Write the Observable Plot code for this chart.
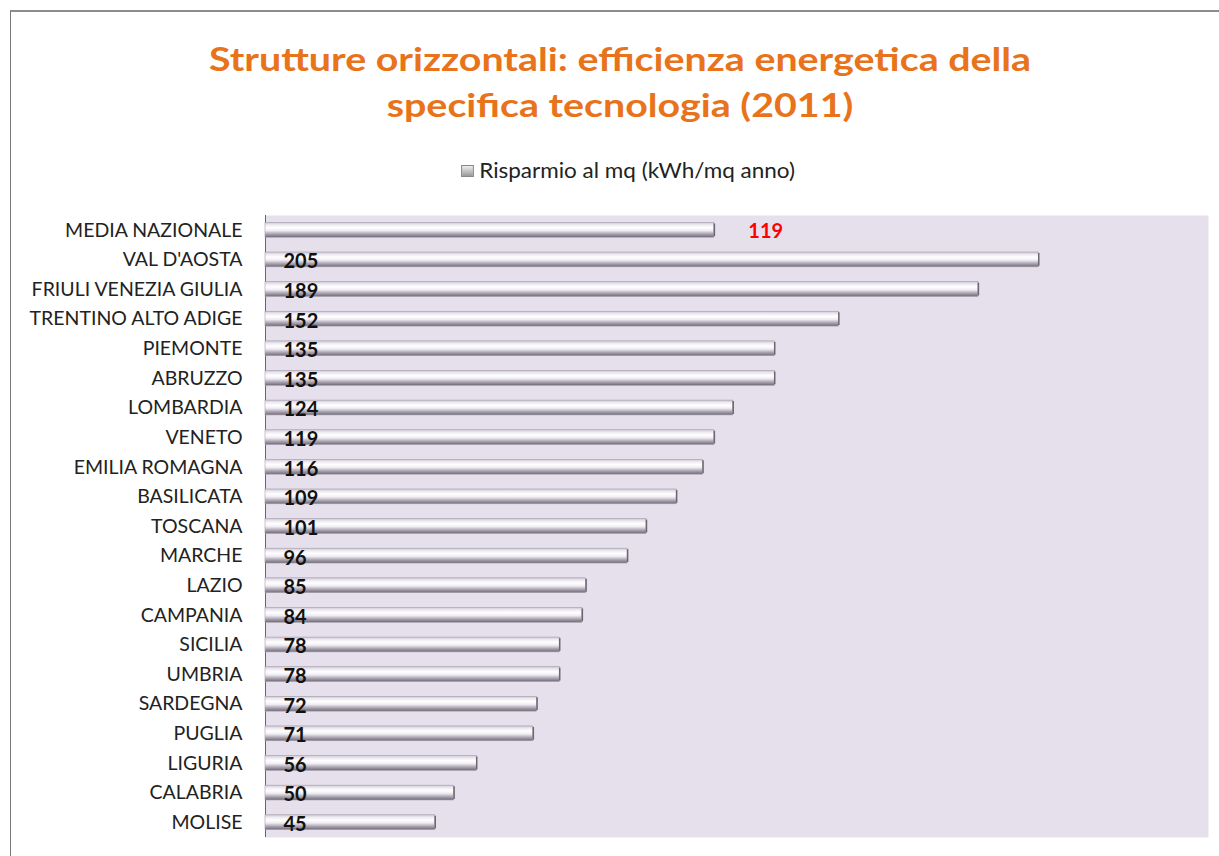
<!DOCTYPE html>
<html>
<head>
<meta charset="utf-8">
<script src="https://cdn.jsdelivr.net/npm/d3@7"></script>
<script src="https://cdn.jsdelivr.net/npm/@observablehq/plot@0.6"></script>
<style>
  html, body { margin: 0; padding: 0; background: #fff; }
  body { width: 1219px; height: 856px; position: relative; overflow: hidden; font-family: Lato, "Open Sans", sans-serif; }
  #frame { position: absolute; left: 10px; top: 10px; width: 1230px; height: 860px; border-top: 2px solid #8c8c8c; border-left: 1px solid #7a7a7a; }
  #title { position: absolute; left: 0; top: 36px; width: 1240px; text-align: center; color: #e8731a; font-weight: bold; font-size: 32px; line-height: 46px; transform: scaleX(1.23); transform-origin: 620px 0; }
  #legend { position: absolute; left: 0; top: 157px; width: 1256px; text-align: center; font-size: 21px; color: #222; transform: scaleX(1.07); transform-origin: 628px 0; }
  #legend .sw { display: inline-block; width: 10px; height: 10px; background: linear-gradient(#eee, #999); border: 1px solid #888; margin-right: 5px; vertical-align: 1px; }
  #chart { position: absolute; left: 0; top: 205px; }
</style>
</head>
<body>
<div id="frame"></div>
<div id="title">Strutture orizzontali: efficienza energetica della<br>specifica tecnologia (2011)</div>
<div id="legend"><span class="sw"></span>Risparmio al mq (kWh/mq anno)</div>
<div id="chart"></div>
<script>
const regions = ["MEDIA NAZIONALE","VAL D'AOSTA","FRIULI VENEZIA GIULIA","TRENTINO ALTO ADIGE","PIEMONTE","ABRUZZO","LOMBARDIA","VENETO","EMILIA ROMAGNA","BASILICATA","TOSCANA","MARCHE","LAZIO","CAMPANIA","SICILIA","UMBRIA","SARDEGNA","PUGLIA","LIGURIA","CALABRIA","MOLISE"];
const values = [119,205,189,152,135,135,124,119,116,109,101,96,85,84,78,78,72,71,56,50,45];

const data = regions.map((r, i) => ({region: r, value: values[i]}));
const avg = data.slice(0, 1);
const rest = data.slice(1);

const defs = () => {
  const d = d3.create("svg:defs");
  const g = d.append("linearGradient").attr("id", "barGrad").attr("x1", 0).attr("y1", 0).attr("x2", 0).attr("y2", 1);
  [[0, "#cbc5d3"], [0.15, "#ebe8f0"], [0.35, "#ffffff"], [0.55, "#efecf3"], [0.78, "#aaa4b1"], [1, "#6f6977"]]
    .forEach(([o, c]) => g.append("stop").attr("offset", o).attr("stop-color", c));
  return d.node();
};

const chart = Plot.plot({
  width: 1219,
  height: 640,
  marginLeft: 265,
  marginRight: 11,
  marginTop: 10,
  marginBottom: 8,
  style: {fontFamily: "Lato, 'Open Sans', sans-serif", background: "transparent"},
  x: {domain: [0, 250], axis: null},
  y: {domain: regions, paddingInner: 0.5, paddingOuter: 0.25, round: false, label: null},
  marks: [
    defs,
    Plot.frame({fill: "#e5e0ec", stroke: null}),
    Plot.axisY({tickSize: 0, tickPadding: 23, fontSize: 19.5, fill: "#222", label: null}),
    Plot.ruleX([0], {stroke: "#666", strokeWidth: 1}),
    Plot.barX(data, {x: "value", y: "region", fill: "url(#barGrad)", stroke: "#a49eaa", strokeWidth: 0.6}),
    Plot.tickX(data, {x: "value", y: "region", stroke: "#6c6672", strokeWidth: 1.5, insetTop: 1, insetBottom: 1}),
    Plot.text(rest, {x: () => 0, y: "region", text: d => String(d.value), dx: 18, dy: 2, textAnchor: "start", fontWeight: "bold", fontSize: 20, fill: "#111"}),
    Plot.text(avg, {x: "value", y: "region", text: d => String(d.value), dx: 34, dy: 1, textAnchor: "start", fontWeight: "bold", fontSize: 20, fill: "#ff0000"})
  ]
});
document.getElementById("chart").appendChild(chart);
</script>
</body>
</html>
